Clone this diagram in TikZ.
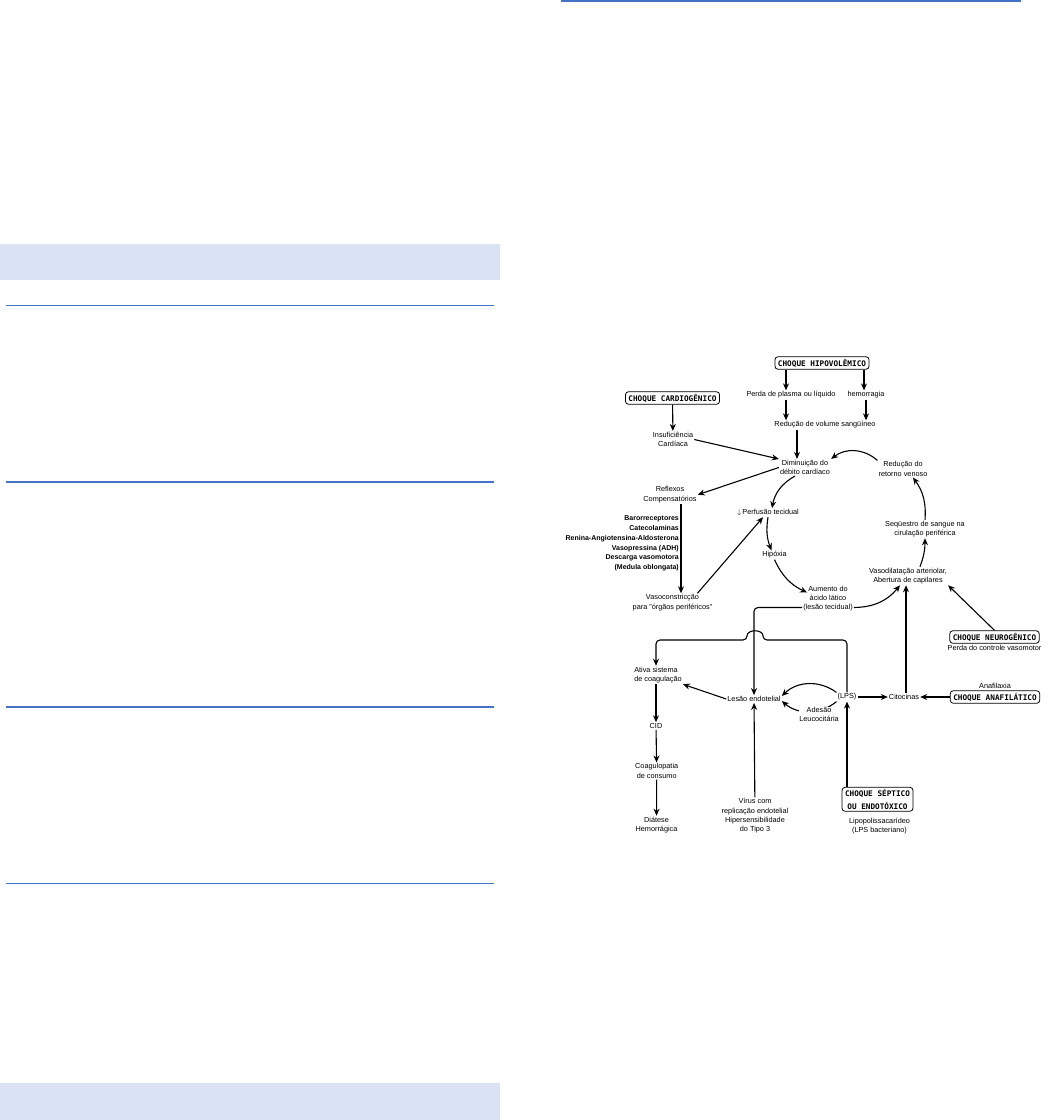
\documentclass[tikz,border=0pt]{standalone}
\usepackage{fontspec}
\setmainfont{Liberation Sans}
\newfontfamily\choquefont{DejaVu Sans Mono}
\usetikzlibrary{arrows.meta, positioning}

\definecolor{pagebar}{RGB}{218,227,243}
\definecolor{pageline}{RGB}{68,114,196}

\begin{document}
\begin{tikzpicture}[
    x=1pt, y=-1pt,
    every node/.style={align=center, inner sep=1pt, font=\fontsize{7.3}{9.3}\selectfont},
    choque/.style={draw, rounded corners=3pt, line width=0.8pt, fill=white, inner xsep=3pt, inner ysep=2pt, minimum height=12.5pt, font=\choquefont\bfseries\fontsize{7.7}{12.7}\selectfont},
    arrow/.style={-{Stealth[length=7pt,width=6pt]}, line width=1.1pt}
]
\useasboundingbox (0,0) rectangle (1053,1120);

% page around the figure
\fill[pagebar] (0,244) rectangle (500,280);
\fill[pagebar] (0,1083) rectangle (500,1120);
\draw[pageline, line width=1pt] (6,305) -- (494,305);
\draw[pageline, line width=2pt] (6,482) -- (494,482);
\draw[pageline, line width=2pt] (6,707) -- (494,707);
\draw[pageline, line width=1pt] (6,883) -- (494,883);
\draw[pageline, line width=2pt] (561,1) -- (1021,1);

% upper part
\node[choque] (hipo) at (822,363) {CHOQUE HIPOVOLÊMICO};
\node (perda) at (791,395) {Perda de plasma ou líquido};
\node (hemo) at (866,395) {hemorragia};
\node (volume) at (825,425) {Redução de volume sangüíneo};
\node[choque] (cardio) at (672.5,398) {CHOQUE CARDIOGÊNICO};
\node (insuf) at (673,439.5) {Insuficiência\\Cardíaca};
\node (debito) at (805,467.5) {Diminuição do\\débito cardíaco};
\node (retorno) at (903,469) {Redução do\\retorno venoso};
\node (reflexos) at (670,494.7) {Reflexos\\Compensatórios};
\node (perfusao) at (768,512.7) {$\downarrow$\,Perfusão tecidual};
\node[anchor=east, align=right, font=\bfseries\fontsize{7}{9.8}\selectfont] (baro) at (680,543.5) {Barorreceptores\\Catecolaminas\\Renina-Angiotensina-Aldosterona\\Vasopressina (ADH)\\Descarga vasomotora\\(Medula oblongata)};
\node (vasocons) at (672.5,602.5) {Vasoconstricção\\para "órgãos periféricos"};
\node (hipoxia) at (774.5,555) {Hipóxia};
\node (acido) at (828,598.5) {Aumento do\\ácido lático\\(lesão tecidual)};
\node (vasodil) at (908,576) {Vasodilatação arteriolar,\\Abertura de capilares};
\node (sequestro) at (925,529) {Seqüestro de sangue na\\cirulação periférica};
\node[choque] (neuro) at (994.5,637) {CHOQUE NEUROGÊNICO};
\node[below=0pt of neuro] (perdactrl) {Perda do controle vasomotor};

% lower part
\node[choque] (anaf) at (995,697) {CHOQUE ANAFILÁTICO};
\node[above=1pt of anaf] (anafilaxia) {Anafilaxia};
\node (citocinas) at (904,697) {Citocinas};
\node (lps) at (847,697) {(LPS)};
\node (lesao) at (754,699) {Lesão endotelial};
\node[align=left] (ativa) at (658,675) {Ativa sistema\\de coagulação};
\node (cid) at (656,726) {CID};
\node (coagulo) at (656.7,771) {Coagulopatia\\de consumo};
\node (diatese) at (656.5,825) {Diátese\\Hemorrágica};
\node (virus) at (755,816) {Vírus com\\replicação endotelial\\Hipersensibilidade\\do Tipo 3};
\node[choque] (septico) at (877.5,799.3) {CHOQUE SÉPTICO\\OU ENDOTÓXICO};
\node (lipo) at (879.5,826) {Lipopolissacarídeo\\(LPS bacteriano)};

\coordinate (hopR) at (763,640);
\coordinate (hopL) at (747,640);

\draw[arrow] ([xshift=-36pt]hipo.south) -- ([xshift=-36pt]hipo.south |- perda.north);
\draw[arrow] ([xshift=42pt]hipo.south) -- ([xshift=42pt]hipo.south |- hemo.north);
\draw[arrow] ([xshift=-5pt]perda.south) -- ([xshift=-5pt]perda.south |- volume.north);
\draw[arrow] (hemo.south) -- (hemo.south |- volume.north);
\draw[arrow] ([xshift=-8pt]debito.north |- volume.south) -- ([xshift=-8pt]debito.north);
\draw[arrow] (cardio) -- (insuf);
\draw[arrow] (insuf.east) -- (debito.north west);
\draw[arrow] (debito.west) -- (reflexos.east);

% the circle
\draw[arrow] ([xshift=-10pt]debito.south) to[bend right=25] ([xshift=4pt]perfusao.north);
\draw[arrow] (perfusao.south) to[bend right=15] ([xshift=-3pt]hipoxia.north);
\draw[arrow] (hipoxia.south) to[bend right=20] ([xshift=5pt,yshift=6pt]acido.west);
\draw[arrow] ([yshift=-9pt]acido.east) to[bend right=25] ([xshift=-8pt]vasodil.south);
\draw[arrow] ([xshift=12pt]vasodil.north) to[bend right=10] (sequestro.south);
\draw[arrow] (sequestro.north) to[bend right=20] ([xshift=10pt]retorno.south);
\draw[arrow] (retorno.north west) to[bend right=40] (debito.north east);

\draw[arrow] ([xshift=11pt]reflexos.south) -- ([xshift=11pt]reflexos.south |- vasocons.north);
\draw[arrow] ([xshift=-16pt]vasocons.north east) -- ([xshift=-5pt]perfusao.south);

\draw[arrow] (lps) -- (citocinas);
\draw[arrow] (anaf) -- (citocinas);
\draw[arrow] ([xshift=2pt]citocinas.north) -- ([xshift=2pt]citocinas.north |- vasodil.south);
\draw[arrow] (neuro.north) -- (vasodil.south east);
\draw[arrow] (lps |- septico.north) -- (lps.south);
\draw[arrow, rounded corners=4pt] ([yshift=-9pt]acido.west) -| (lesao.north);
\draw[arrow, rounded corners=4pt] (lps.north) |- (hopR) .. controls +(0,-11) and +(0,-11) .. (hopL) -| ([xshift=-2pt]ativa.north);
\draw[arrow] (virus) -- (lesao);
\draw[arrow] (lesao.west) -- (ativa.south east);
\draw[arrow] (lps.north west) to[bend right=40] ([yshift=3pt]lesao.east);
\draw[arrow] (lps.south west) to[bend left=40] node[fill=white, inner sep=0pt, xshift=10pt, yshift=-3pt] (adesao) {Adesão\\Leucocitária} ([yshift=-2pt]lesao.east);
\draw[arrow] (cid.north |- ativa.south) -- (cid.north);
\draw[arrow] (cid) -- (coagulo);
\draw[arrow] (coagulo) -- (diatese);

\end{tikzpicture}
\end{document}
